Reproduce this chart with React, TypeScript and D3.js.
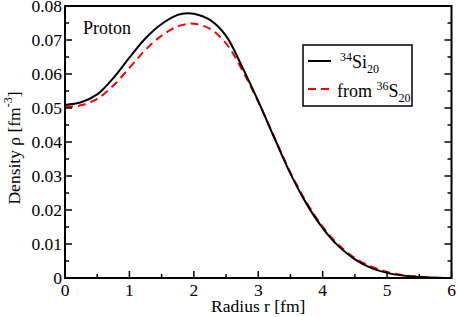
import { useEffect, useRef } from 'react';
import * as d3 from 'd3';

const radius = [0, 0.25, 0.5, 0.75, 1, 1.25, 1.5, 1.75, 1.9, 2, 2.25, 2.5, 2.75, 3, 3.25, 3.5, 3.75, 4, 4.25, 4.5, 4.75, 5, 5.25, 5.5, 5.75, 6];
const si34 = [0.0509, 0.0517, 0.054, 0.0588, 0.0648, 0.0705, 0.0747, 0.0774, 0.0779, 0.0777, 0.0759, 0.0712, 0.0621, 0.052, 0.0412, 0.0307, 0.0218, 0.0147, 0.0093, 0.0055, 0.003, 0.0015, 0.0007, 0.0003, 0.0001, 0];
const fromS36 = [0.0502, 0.0508, 0.0527, 0.0566, 0.0618, 0.0671, 0.0713, 0.074, 0.0747, 0.0748, 0.0733, 0.069, 0.0612, 0.0518, 0.0414, 0.031, 0.0222, 0.0151, 0.0097, 0.0059, 0.0034, 0.0018, 0.0008, 0.0004, 0.0001, 0];

const xTicks = [0, 1, 2, 3, 4, 5, 6];
const yTicks = [0, 0.01, 0.02, 0.03, 0.04, 0.05, 0.06, 0.07, 0.08];
const yTickLabels = ['0', '0.01', '0.02', '0.03', '0.04', '0.05', '0.06', '0.07', '0.08'];

const W = 458;
const H = 317;
const margin = { left: 65, right: 6.5, top: 6, bottom: 39 };
const FONT = 'Liberation Serif';

function DensityChart() {
  const svgRef = useRef<SVGSVGElement>(null);

  useEffect(() => {
    if (svgRef.current === null) return;
    const svg = d3.select(svgRef.current);
    svg.selectAll('*').remove();

    const x = d3.scaleLinear().domain([0, 6]).range([margin.left, W - margin.right]);
    const y = d3.scaleLinear().domain([0, 0.08]).range([H - margin.bottom, margin.top]);

    const body = svg.append('g');

    // curves
    const pts = (vals: number[]) => radius.map((r, i) => [r, vals[i]] as [number, number]);
    const line = d3
      .line<[number, number]>()
      .x((d) => x(d[0]))
      .y((d) => y(d[1]))
      .curve(d3.curveCatmullRom.alpha(0.5));

    body.append('path')
      .attr('d', line(pts(fromS36)))
      .attr('fill', 'none')
      .attr('stroke', '#ff0000')
      .attr('stroke-width', 2)
      .attr('stroke-dasharray', '8,5');

    body.append('path')
      .attr('d', line(pts(si34)))
      .attr('fill', 'none')
      .attr('stroke', '#000')
      .attr('stroke-width', 2);

    // ticks (inward, bottom / left / right)
    const x0 = x(0), x1 = x(6), y0 = y(0), y1 = y(0.08);
    const xMinor = d3.range(0.5, 6, 1);
    const yMinor = d3.range(0.005, 0.08, 0.01);
    const tk = body.append('g').attr('stroke', '#000').attr('stroke-width', 1.5);
    xTicks.forEach((t) => tk.append('line').attr('x1', x(t)).attr('x2', x(t)).attr('y1', y0).attr('y2', y0 - 7));
    xMinor.forEach((t) => tk.append('line').attr('x1', x(t)).attr('x2', x(t)).attr('y1', y0).attr('y2', y0 - 4));
    yTicks.forEach((t) => {
      tk.append('line').attr('x1', x0).attr('x2', x0 + 7).attr('y1', y(t)).attr('y2', y(t));
      tk.append('line').attr('x1', x1).attr('x2', x1 - 7).attr('y1', y(t)).attr('y2', y(t));
    });
    yMinor.forEach((t) => {
      tk.append('line').attr('x1', x0).attr('x2', x0 + 4).attr('y1', y(t)).attr('y2', y(t));
      tk.append('line').attr('x1', x1).attr('x2', x1 - 4).attr('y1', y(t)).attr('y2', y(t));
    });

    // frame
    body.append('rect')
      .attr('x', x0).attr('y', y1)
      .attr('width', x1 - x0).attr('height', y0 - y1)
      .attr('fill', 'none').attr('stroke', '#000').attr('stroke-width', 2);

    // tick labels
    body.append('g').selectAll('text').data(xTicks).enter().append('text')
      .attr('x', (d) => x(d)).attr('y', 296)
      .attr('text-anchor', 'middle')
      .attr('font-family', FONT).attr('font-size', 17.5)
      .text((d) => String(d));

    body.append('g').selectAll('text').data(yTicks).enter().append('text')
      .attr('x', 62).attr('y', (d) => y(d) + 6)
      .attr('text-anchor', 'end')
      .attr('font-family', FONT).attr('font-size', 17.5)
      .text((_, i) => yTickLabels[i]);

    // axis titles
    svg.append('text')
      .attr('x', (x0 + x1) / 2).attr('y', 312)
      .attr('text-anchor', 'middle')
      .attr('font-family', FONT).attr('font-size', 17.5)
      .text('Radius  r [fm]');

    const yl = svg.append('text')
      .attr('transform', `translate(20, ${(y0 + y1) / 2 + 6}) rotate(-90)`)
      .attr('text-anchor', 'middle')
      .attr('font-family', FONT).attr('font-size', 17.5);
    yl.append('tspan').text('Density ρ  [fm');
    yl.append('tspan').attr('font-size', 12).attr('dy', -8).text('-3');
    yl.append('tspan').attr('dy', 8).text(']');

    svg.append('text')
      .attr('x', 83).attr('y', 34)
      .attr('font-family', FONT).attr('font-size', 18)
      .text('Proton');

    // legend
    const lg = svg.append('g');
    lg.append('rect')
      .attr('x', 303).attr('y', 45).attr('width', 109).attr('height', 61)
      .attr('fill', '#fff').attr('stroke', '#000').attr('stroke-width', 1.5);
    lg.append('line').attr('x1', 308).attr('x2', 331).attr('y1', 61).attr('y2', 61)
      .attr('stroke', '#000').attr('stroke-width', 2);
    lg.append('line').attr('x1', 308).attr('x2', 331).attr('y1', 89).attr('y2', 89)
      .attr('stroke', '#ff0000').attr('stroke-width', 2).attr('stroke-dasharray', '8,5');

    const t1 = lg.append('text').attr('x', 340).attr('y', 68)
      .attr('font-family', FONT).attr('font-size', 18);
    t1.append('tspan').attr('font-size', 12).attr('dy', -7).text('34');
    t1.append('tspan').attr('dy', 7).text('Si');
    t1.append('tspan').attr('font-size', 12).attr('dy', 5).text('20');

    const t2 = lg.append('text').attr('x', 337).attr('y', 96.5)
      .attr('font-family', FONT).attr('font-size', 18);
    t2.append('tspan').text('from ');
    t2.append('tspan').attr('font-size', 12).attr('dy', -7).text('36');
    t2.append('tspan').attr('dy', 7).text('S');
    t2.append('tspan').attr('font-size', 12).attr('dy', 5).text('20');
  }, []);

  return (
    <svg
      ref={svgRef}
      width={W}
      height={H}
      style={{ position: 'absolute', left: 0, top: 0, background: '#fff' }}
    />
  );
}

export default function App() {
  return <DensityChart />;
}
